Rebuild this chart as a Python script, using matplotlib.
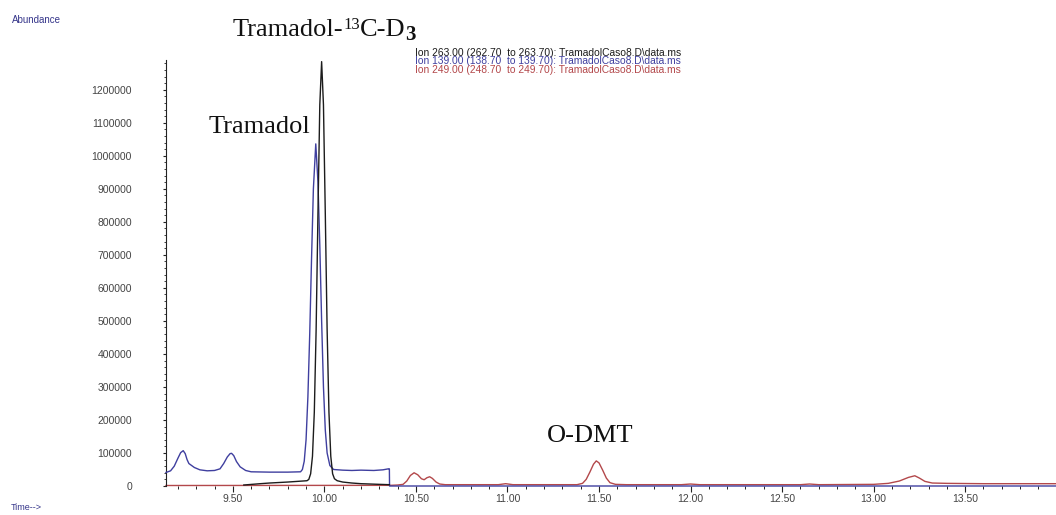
import matplotlib
matplotlib.use("Agg")
import matplotlib.pyplot as plt
from matplotlib.ticker import MultipleLocator, FormatStrFormatter

# ---- data (time in min, abundance) ----
blue_t = [9.135, 9.16, 9.18, 9.20, 9.215, 9.229, 9.24, 9.25, 9.26, 9.27, 9.29, 9.32, 9.36, 9.40, 9.43,
          9.45, 9.47, 9.485, 9.493, 9.505, 9.52, 9.54, 9.57, 9.60, 9.70, 9.80, 9.87,
          9.88, 9.89, 9.90, 9.91, 9.92, 9.93, 9.94, 9.953, 9.965, 9.975, 9.985, 9.995,
          10.005, 10.015, 10.03, 10.05, 10.10, 10.15, 10.20, 10.27, 10.32, 10.35, 10.355,
          10.356, 12.0, 14.0]
blue_v = [41000, 46000, 60000, 84000, 101000, 107000, 98000, 80000, 68000, 64000, 56000, 49000, 46000, 47000, 52000,
          68000, 88000, 98000, 99000, 92000, 74000, 58000, 47000, 43000, 42000, 42000, 43000,
          50000, 75000, 140000, 270000, 460000, 690000, 900000, 1036000, 920000, 730000, 500000, 300000,
          170000, 100000, 62000, 50000, 48000, 47000, 48000, 47000, 49000, 52000, 52000,
          0, 0, 0]

black_t = [9.56, 9.65, 9.70, 9.80, 9.88, 9.905, 9.915, 9.925, 9.935, 9.945, 9.955,
           9.965, 9.975, 9.985, 9.995, 10.005, 10.015, 10.025, 10.035, 10.045, 10.055, 10.07,
           10.10, 10.15, 10.20, 10.25, 10.30, 10.355]
black_v = [3000, 7000, 9000, 12000, 15000, 16000, 20000, 37000, 90000, 223000, 474000,
           826000, 1154000, 1285000, 1154000, 826000, 474000, 223000, 90000, 37000, 22000, 16000,
           12000, 9000, 7000, 6000, 5000, 4000]

red_t = [9.135, 10.36, 10.40, 10.43, 10.45, 10.47, 10.49, 10.51, 10.53, 10.545, 10.56, 10.575, 10.59,
         10.61, 10.63, 10.66, 10.95, 10.99, 11.03, 11.38, 11.41, 11.43, 11.45, 11.47, 11.485,
         11.50, 11.52, 11.54, 11.56, 11.59, 11.65, 11.95, 12.00, 12.05, 12.60, 12.65, 12.70,
         13.00, 13.08, 13.14, 13.19, 13.225, 13.25, 13.28, 13.32, 13.40, 13.60, 14.0]
red_v = [1500, 2000, 3000, 5000, 15000, 32000, 40000, 34000, 22000, 19000, 25000, 28000, 23000,
         12000, 6000, 4000, 4000, 7000, 4000, 4000, 8000, 20000, 42000, 66000, 76000,
         70000, 48000, 24000, 10000, 5000, 4000, 4000, 6000, 4000, 4000, 6000, 4000,
         5000, 8000, 15000, 26000, 31000, 24000, 14000, 9000, 8000, 7000, 7000]

legend_lines = ["Ion 263.00 (262.70  to 263.70): TramadolCaso8.D\\data.ms",
                "Ion 139.00 (138.70  to 139.70): TramadolCaso8.D\\data.ms",
                "Ion 249.00 (248.70  to 249.70): TramadolCaso8.D\\data.ms"]

C_BLACK = "#1c1c1c"
C_BLUE = "#3f3f9f"
C_RED = "#b3484b"
C_TEXT_BLUE = "#35358a"

W, H = 1056, 515
fig = plt.figure(figsize=(W / 100, H / 100), dpi=100)
fig.patch.set_facecolor("white")

ax_l, ax_r, ax_b, ax_t = 166, 1056, 486, 60
ax = fig.add_axes([ax_l / W, 1 - ax_b / H, (ax_r - ax_l) / W, (ax_b - ax_t) / H])

ax.plot(red_t, red_v, color=C_RED, lw=1.0, clip_on=False, zorder=2)
ax.plot(blue_t, blue_v, color=C_BLUE, lw=1.0, clip_on=False, zorder=3)
ax.plot(black_t, black_v, color=C_BLACK, lw=1.0, clip_on=False, zorder=4)

ax.set_xlim(9.135, 13.996)
ax.set_ylim(0, 1290000)

for s in ["top", "right", "bottom"]:
    ax.spines[s].set_visible(False)
ax.spines["left"].set_color("#222222")
ax.spines["left"].set_linewidth(0.8)

ax.xaxis.set_major_locator(MultipleLocator(0.5))
ax.xaxis.set_minor_locator(MultipleLocator(0.1))
ax.xaxis.set_major_formatter(FormatStrFormatter("%.2f"))
ax.yaxis.set_major_locator(MultipleLocator(100000))
ax.yaxis.set_minor_locator(MultipleLocator(20000))
ax.yaxis.set_major_formatter(FormatStrFormatter("%d"))

ax.tick_params(axis="x", which="major", direction="out", length=4, width=0.8, color="#222222",
               pad=1.5, labelsize=7.5, labelcolor="#444444")
ax.tick_params(axis="x", which="minor", direction="out", length=2.5, width=0.7, color="#222222")
ax.tick_params(axis="y", which="major", direction="out", length=2.5, width=0.8, color="#222222",
               pad=22, labelsize=7.5, labelcolor="#444444")
ax.tick_params(axis="y", which="minor", direction="out", length=1.5, width=0.6, color="#222222")
for lab in ax.get_xticklabels() + ax.get_yticklabels():
    lab.set_fontfamily("Liberation Sans")

# texts
fig.text(12 / W, 1 - 20 / H, "Abundance", fontsize=7, color=C_TEXT_BLUE,
         family="Liberation Sans", va="center", ha="left")
fig.text(11 / W, 1 - 507 / H, "Time-->", fontsize=6.5, color=C_TEXT_BLUE,
         family="Liberation Sans", va="center", ha="left")

# title built piece by piece (superscript 13, bold subscript 3)
renderer = fig.canvas.get_renderer()
pieces = [("Tramadol-", 19, "normal", 0, 0), ("13", 12, "normal", 7, 0),
          ("C-D", 19, "normal", 0, 0), ("3", 15, "bold", -4, -1)]
xpos = 233.0
base = 36.0
for s, size, weight, dy, dx in pieces:
    t = fig.text((xpos + dx) / W, 1 - (base - dy) / H, s, fontsize=size, fontweight=weight,
                 family="Liberation Serif", color="#111111", va="baseline", ha="left")
    bb = t.get_window_extent(renderer)
    xpos = bb.x1

fig.text(209 / W, 1 - 133 / H, "Tramadol", fontsize=19, family="Liberation Serif",
         color="#111111", va="baseline", ha="left")
fig.text(547 / W, 1 - 442 / H, "O-DMT", fontsize=19, family="Liberation Serif",
         color="#111111", va="baseline", ha="left")

for txt, yc, col in zip(legend_lines, [53, 61.5, 70], [C_BLACK, C_BLUE, C_RED]):
    fig.text(415 / W, 1 - yc / H, txt, fontsize=7.4, family="Liberation Sans",
             color=col, va="center", ha="left")

fig.savefig("out.png", dpi=100, facecolor="white")
